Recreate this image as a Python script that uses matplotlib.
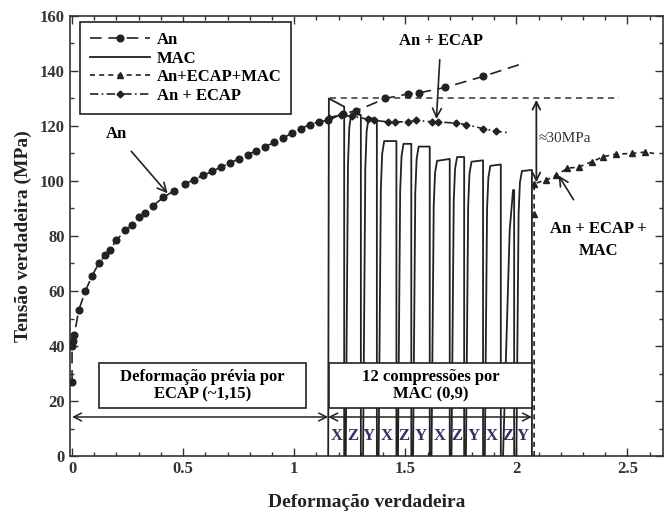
import matplotlib
matplotlib.use('Agg')
import matplotlib.pyplot as plt
from matplotlib.patches import Rectangle
from matplotlib.lines import Line2D
import numpy as np

plt.rcParams['font.family'] = 'Liberation Serif'
plt.rcParams['font.weight'] = 'bold'
plt.rcParams['axes.labelweight'] = 'bold'

# curva An (recozido)
an_x = [0.0, 0.0, 0.005, 0.01, 0.03, 0.06, 0.09, 0.12, 0.15, 0.17, 0.2, 0.24, 0.27, 0.3,
        0.33, 0.365, 0.41, 0.46, 0.51, 0.55, 0.59, 0.63, 0.67, 0.71, 0.75, 0.79, 0.83,
        0.87, 0.91, 0.95, 0.99, 1.03, 1.07, 1.11, 1.15, 1.22, 1.28, 1.41, 1.51, 1.56,
        1.68, 1.85, 2.04]
an_y = [27, 40, 42, 44, 53, 60, 65.5, 70, 73, 75, 78.5, 82, 84, 87, 88.5, 91, 94, 96.5,
        99, 100.5, 102, 103.5, 105, 106.5, 108, 109.5, 111, 112.5, 114, 115.5, 117.5,
        119, 120.5, 121.5, 122, 124.5, 125.5, 130, 131.6, 132, 134, 138, 143]

# curva An + ECAP
ecap_x = [1.155, 1.21, 1.26, 1.33, 1.36, 1.42, 1.455, 1.51, 1.55, 1.62, 1.645, 1.73,
          1.775, 1.85, 1.91, 1.97]
ecap_y = [123, 124, 123.5, 122.5, 122, 121.5, 121.5, 121.5, 122, 121.5, 121.5, 121,
          120.5, 119, 118, 117.5]

# curva An + ECAP + MAC
eam_x = [2.08, 2.08, 2.08, 2.135, 2.18, 2.23, 2.28, 2.34, 2.39, 2.45, 2.52, 2.58, 2.62]
eam_y = [0, 88, 99, 100.4, 102, 104.7, 105, 107, 108.8, 109.8, 110, 110.5, 110]

# 12 compressoes MAC: inicio, fim, tensao no inicio do escoamento, tensao final
mac_ini = [1.153, 1.232, 1.31, 1.38, 1.467, 1.535, 1.618, 1.708, 1.773, 1.858, 1.94, 2.0]
mac_fim = [1.225, 1.30, 1.372, 1.46, 1.527, 1.61, 1.70, 1.765, 1.85, 1.93, 1.99, 2.07]
mac_pico = [130, 124.5, 123, 114.5, 113.5, 112.5, 107.3, 108.7, 107, 105.5, 96.7, 103.6]
mac_final = [127, 124, 122.5, 114.5, 113.5, 112.5, 108, 108.7, 107.5, 106, 96.7, 104]
eixos = ['X', 'Z', 'Y'] * 4

fig = plt.figure(figsize=(6.65, 5.13), dpi=100)
ax = fig.add_axes([0.105, 0.111, 0.892, 0.858])

# MAC
mx, my = [], []
for i in range(len(mac_ini)):
    s, e, p, pf = mac_ini[i], mac_fim[i], mac_pico[i], mac_final[i]
    if i == 0:
        mx += [s, s + 0.003, e, e]
        my += [0, p, pf, 0]
    elif e - s < 0.055:
        mx += [s, s + 0.03, s + 0.045, e, e]
        my += [0, 0.85 * p, p, pf, 0]
    else:
        mx += [s, s + 0.01, s + 0.016, s + 0.025, e, e]
        my += [0, 0.85 * p, 0.96 * p, p, pf, 0]
ax.plot(mx, my, color='#222222', lw=1.3, zorder=3)

ax.plot(an_x, an_y, color='#222222', lw=1.2, dashes=(7, 4), marker='o', ms=4.8,
        markevery=list(range(len(an_x) - 1)), zorder=4)
ax.plot(ecap_x, ecap_y, color='#222222', lw=1.2, dashes=(5, 2, 1, 2), marker='D', ms=3.5,
        markevery=list(range(len(ecap_x) - 1)), zorder=4)
ax.plot(eam_x, eam_y, color='#222222', lw=1.2, dashes=(3, 2.5), marker='^', ms=4.8,
        markevery=list(range(1, len(eam_x) - 1)), zorder=4)

# linha de referencia 130 MPa
ax.plot([1.16, 2.46], [130, 130], color='#333333', lw=1.1, dashes=(4, 3), zorder=2)
ax.annotate('', xy=(2.09, 130.5), xytext=(2.09, 98.5),
            arrowprops=dict(arrowstyle='<->', color='#222222', lw=1.3, mutation_scale=14))
ax.text(2.1, 115.5, u'\u224830MPa', fontsize=11, fontweight='normal', color='#333333',
        va='center', ha='left')

# anotacoes
ax.annotate('An', xy=(0.43, 95.5), xytext=(0.2, 117), fontsize=12, ha='center', va='center',
            arrowprops=dict(arrowstyle='->', color='#222222', lw=1.2, mutation_scale=16,
                            shrinkA=6, shrinkB=0))
ax.annotate('An + ECAP', xy=(1.64, 122.5), xytext=(1.66, 151), fontsize=12, ha='center',
            va='center', arrowprops=dict(arrowstyle='->', color='#222222', lw=1.2,
                                         mutation_scale=16, shrinkA=6, shrinkB=0))
ax.annotate('An + ECAP +\nMAC', xy=(2.19, 102), xytext=(2.37, 78.5), fontsize=12, ha='center',
            va='center', linespacing=1.45,
            arrowprops=dict(arrowstyle='->', color='#222222', lw=1.2, mutation_scale=16,
                            shrinkA=16, shrinkB=0))

# caixas
ax.add_patch(Rectangle((0.12, 17.5), 0.935, 16.3, facecolor='white', edgecolor='#222222',
                       lw=1.2, zorder=5))
ax.text(0.587, 25.6, u'Deformação prévia por\nECAP (~1,15)', fontsize=12, ha='center',
        va='center', linespacing=1.1, zorder=6)
ax.add_patch(Rectangle((1.158, 17.5), 0.912, 16.3, facecolor='white', edgecolor='#222222',
                       lw=1.2, zorder=5))
ax.text(1.614, 25.6, u'12 compressões por\nMAC (0,9)', fontsize=12, ha='center',
        va='center', linespacing=1.1, zorder=6)

ax.annotate('', xy=(0.0, 14.2), xytext=(1.153, 14.2),
            arrowprops=dict(arrowstyle='<->', color='#222222', lw=1.1, mutation_scale=14,
                            shrinkA=0, shrinkB=0))
ax.annotate('', xy=(1.153, 14.2), xytext=(2.07, 14.2),
            arrowprops=dict(arrowstyle='<->', color='#222222', lw=1.1, mutation_scale=14,
                            shrinkA=0, shrinkB=0))
for i in range(len(eixos)):
    xc = (mac_fim[i] + (mac_fim[i - 1] if i > 0 else mac_ini[0])) / 2
    ax.text(xc, 7.3, eixos[i], fontsize=12, ha='center', va='center', color='#2a3560')

# legenda
handles = [
    Line2D([], [], color='#222222', lw=1.2, dashes=(7, 4), marker='o', ms=4.8),
    Line2D([], [], color='#222222', lw=1.3),
    Line2D([], [], color='#222222', lw=1.2, dashes=(3, 2.5), marker='^', ms=4.8),
    Line2D([], [], color='#222222', lw=1.2, dashes=(5, 2, 1, 2), marker='D', ms=3.5),
]
leg = ax.legend(handles, ['An', 'MAC', 'An+ECAP+MAC', 'An + ECAP'], loc='upper left',
                bbox_to_anchor=(0.017, 0.986), borderaxespad=0, fancybox=False,
                framealpha=1, edgecolor='#222222', prop={'size': 12, 'weight': 'bold'},
                handlelength=3.6, numpoints=1, labelspacing=0.15, borderpad=0.6,
                handletextpad=0.4)
leg.get_frame().set_linewidth(1.2)
leg.set_zorder(7)

ax.set_xlim(-0.01, 2.66)
ax.set_ylim(0, 160)
ax.set_xticks([0, 0.5, 1, 1.5, 2, 2.5])
ax.set_xticklabels(['0', '0.5', '1', '1.5', '2', '2.5'])
ax.set_xticks(np.arange(0, 2.7, 0.1), minor=True)
ax.set_yticks(np.arange(0, 161, 20))
ax.set_yticks(np.arange(0, 161, 10), minor=True)
ax.tick_params(which='both', direction='in', top=True, right=True, labelsize=12,
               labelcolor='#333333', color='#333333')
ax.tick_params(which='major', length=6, width=1)
ax.tick_params(which='minor', length=3, width=1)
for lab in ax.get_xticklabels() + ax.get_yticklabels():
    lab.set_fontweight('bold')
for sp in ax.spines.values():
    sp.set_linewidth(1.2)
    sp.set_color('#333333')

ax.set_xlabel(u'Deformação verdadeira', fontsize=14, color='#222222', labelpad=12,
              fontweight='bold')
ax.set_ylabel(u'Tensão verdadeira (MPa)', fontsize=14, color='#222222', labelpad=6,
              fontweight='bold')

plt.savefig('out.png', dpi=100)
